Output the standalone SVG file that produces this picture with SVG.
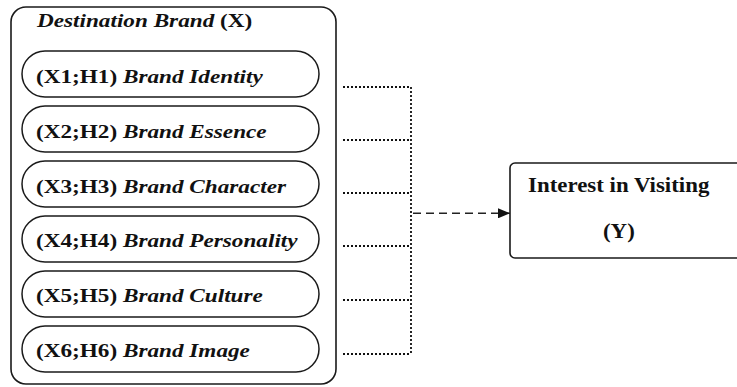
<svg xmlns="http://www.w3.org/2000/svg" width="737" height="387" viewBox="0 0 737 387">
<defs>
<style>
.box{fill:#fff;stroke:#1a1a1a;stroke-width:1.6}
.pill{fill:#fff;stroke:#1a1a1a;stroke-width:1.5}
text{font-family:"Liberation Serif","Times New Roman",serif;font-weight:bold;fill:#111}
.t{font-size:19.5px}
.bi{font-style:italic}
.dot{fill:none;stroke:#111;stroke-width:1.8;stroke-dasharray:2 2}
.dash{fill:none;stroke:#222;stroke-width:1.6;stroke-dasharray:8 5}
</style>
<marker id="ah" markerWidth="12" markerHeight="10" refX="12" refY="5" orient="auto" markerUnits="userSpaceOnUse">
<path d="M0,0 L12,5 L0,10 Z" fill="#111"/>
</marker>
</defs>
<rect width="737" height="387" fill="#fff"/>
<g id="destination-brand">
<rect class="box" x="11" y="7" width="325" height="377" rx="15"/>
<text class="t" transform="translate(37,27) scale(1.19,1)"><tspan class="bi">Destination Brand</tspan> (X)</text>
</g>
<g id="x1">
<rect class="pill" x="22" y="51" width="297" height="46" rx="23"/>
<text class="t" transform="translate(36,82.7) scale(1.19,1)">(X1;H1) <tspan class="bi">Brand Identity</tspan></text>
</g>
<g id="x2">
<rect class="pill" x="22" y="106" width="297" height="46" rx="23"/>
<text class="t" transform="translate(36,137.6) scale(1.19,1)">(X2;H2) <tspan class="bi">Brand Essence</tspan></text>
</g>
<g id="x3">
<rect class="pill" x="22" y="161" width="297" height="46" rx="23"/>
<text class="t" transform="translate(36,192.5) scale(1.19,1)">(X3;H3) <tspan class="bi">Brand Character</tspan></text>
</g>
<g id="x4">
<rect class="pill" x="22" y="216" width="297" height="46" rx="23"/>
<text class="t" transform="translate(36,247.4) scale(1.19,1)">(X4;H4) <tspan class="bi">Brand Personality</tspan></text>
</g>
<g id="x5">
<rect class="pill" x="22" y="271" width="297" height="46" rx="23"/>
<text class="t" transform="translate(36,302.3) scale(1.19,1)">(X5;H5) <tspan class="bi">Brand Culture</tspan></text>
</g>
<g id="x6">
<rect class="pill" x="22" y="326" width="297" height="46" rx="23"/>
<text class="t" transform="translate(36,357.2) scale(1.19,1)">(X6;H6) <tspan class="bi">Brand Image</tspan></text>
</g>
<g id="interest">
<rect class="box" x="510" y="163" width="240" height="95" rx="5"/>
<text font-size="21" transform="translate(528,191.7) scale(1.09,1)">Interest in Visiting</text>
<text font-size="21" transform="translate(603,238) scale(1.09,1)">(Y)</text>
</g>
<g id="connectors">
<path class="dot" d="M343,87 H411 M343,140 H411 M343,193 H411 M343,246 H411 M343,300 H411 M343,354 H411 M411,87 V354"/>
<path class="dash" d="M413,213.3 H510" marker-end="url(#ah)"/>
</g>
</svg>
